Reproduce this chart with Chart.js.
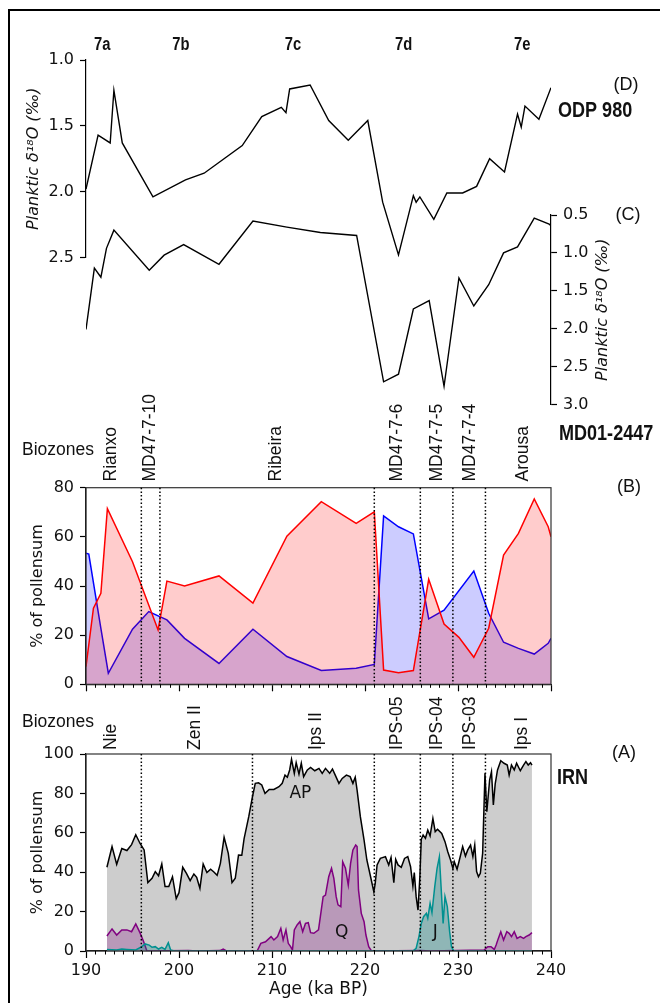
<!DOCTYPE html>
<html>
<head>
<meta charset="utf-8">
<script src="https://cdn.jsdelivr.net/npm/chart.js@4"></script>
<style>
  html, body { margin: 0; padding: 0; background: #fff; }
  #wrap { position: relative; width: 660px; height: 1003px; overflow: hidden; }
  #wrap canvas { position: absolute; left: 0; top: 0; }
</style>
</head>
<body>
<div id="wrap">
  <canvas id="odp" width="660" height="1003"></canvas>
  <canvas id="md" width="660" height="1003"></canvas>
  <canvas id="pollenB" width="660" height="1003"></canvas>
  <canvas id="pollenA" width="660" height="1003"></canvas>
</div>
<script>
// (D) ODP 980 planktic d18O
const odpAge = [190, 191.3, 192.6, 193.0, 193.9, 197.2, 200.7, 202.7, 206.8, 208.9, 211.0, 211.5, 211.9, 214.1, 216.1, 218.2, 220.3, 221.9, 223.6, 225.2, 225.5, 225.9, 227.4, 228.8, 230.5, 232.0, 233.4, 235.0, 236.4, 236.8, 237.2, 238.7, 240.0];
const odpD18O = [1.98, 1.57, 1.63, 1.23, 1.63, 2.04, 1.91, 1.86, 1.65, 1.43, 1.36, 1.40, 1.22, 1.19, 1.46, 1.61, 1.46, 2.08, 2.48, 2.03, 2.08, 2.04, 2.21, 2.01, 2.01, 1.96, 1.75, 1.85, 1.41, 1.51, 1.35, 1.45, 1.21];

// (C) MD01-2447 planktic d18O
const mdAge = [190, 190.9, 191.6, 192.2, 193.0, 196.8, 198.4, 200.5, 204.3, 207.95, 211.6, 215.2, 219.1, 222.0, 223.6, 225.2, 226.9, 228.5, 230.1, 231.7, 233.3, 234.9, 236.4, 238.2, 239.8, 240];
const mdD18O = [2.01, 1.20, 1.32, 0.94, 0.70, 1.23, 1.03, 0.89, 1.15, 0.58, 0.66, 0.73, 0.77, 2.70, 2.60, 1.74, 1.63, 2.76, 1.33, 1.70, 1.42, 1.00, 0.92, 0.54, 0.62, 0.64];

// (B) MD01-2447 pollen
const redAge = [190, 190.8, 191.6, 192.3, 195.0, 197.75, 198.7, 200.6, 204.3, 207.95, 211.6, 215.3, 219.05, 221.0, 222.0, 223.6, 225.2, 226.85, 228.5, 230.1, 231.7, 233.3, 234.9, 236.5, 238.2, 239.7, 240];
const redVal = [7.2, 31, 37, 71.5, 49.9, 22.1, 42.0, 40.0, 44.1, 33.0, 60.3, 74.3, 65.5, 70.2, 5.8, 4.7, 5.6, 42.7, 24.5, 19.1, 11.0, 22.8, 52.6, 61.4, 75.4, 64.1, 60];
const blueAge = [190, 190.3, 191.6, 192.4, 195.0, 196.75, 198.7, 200.6, 204.3, 207.95, 211.6, 215.3, 219.05, 221.0, 222.0, 223.6, 225.2, 226.85, 228.5, 231.7, 233.3, 234.9, 236.5, 238.2, 239.7, 240];
const blueVal = [53.3, 53.0, 22.8, 4.5, 22.4, 29.6, 26.2, 18.7, 8.5, 22.4, 11.3, 5.6, 6.5, 8.1, 68.5, 64.1, 61.2, 26.6, 30.2, 46.1, 28.9, 17.1, 14.6, 12.3, 16.7, 18.7];

// (A) IRN pollen: AP, Q, J
const apAge = [192.25, 192.8, 193.3, 193.85, 194.4, 194.9, 195.35, 195.8, 196.25, 196.65, 197.1, 197.45, 197.8, 198.15, 198.5, 198.9, 199.3, 199.7, 200.0, 200.4,
  200.8, 201.2, 201.6, 201.9, 202.25, 202.6, 203.0, 203.4, 203.75, 204.1, 204.45, 204.85, 205.3, 205.7, 206.05, 206.4, 206.75, 207.0, 207.5, 207.9,
  208.2, 208.55, 208.9, 209.25, 209.7, 210.2, 210.75, 211.1, 211.4, 211.65, 211.9, 212.1, 212.4, 212.6, 212.9, 213.15, 213.4, 213.8, 214.15, 214.6,
  215.05, 215.4, 215.75, 216.2, 216.5, 216.8, 217.2, 217.55, 218.0, 218.4, 218.7, 218.95, 219.15, 219.5, 219.9, 220.2, 220.6, 220.95, 221.1, 221.3,
  221.65, 222.2, 222.55, 222.8, 223.1, 223.3, 223.55, 223.9, 224.25, 224.6, 224.9, 225.15, 225.3, 225.5, 225.7, 225.9, 226.05, 226.25, 226.5, 226.75,
  227.0, 227.3, 227.55, 227.8, 228.25, 228.6, 228.9, 229.2, 229.45, 229.6, 229.9, 230.15, 230.5, 230.8, 231.05, 231.35, 231.6, 231.8, 232.0, 232.2,
  232.4, 232.65, 232.9, 233.1, 233.4, 233.6, 233.8, 234.0, 234.25, 234.6, 234.95, 235.3, 235.5, 235.75, 236.05, 236.3, 236.7, 237.05, 237.3, 237.55,
  237.8, 237.95];
const apVal = [42.5, 53, 44, 52, 51, 54, 59, 54.7, 51.3, 34.7, 36.9, 40.3, 38.2, 44.2, 32.7, 32.7, 37.7, 26.6, 29.6, 42.5,
  39.4, 35.7, 39.1, 37.4, 31.8, 44.2, 39.8, 41.5, 40.1, 38.4, 44.5, 57.7, 49.6, 34.7, 36.9, 48.7, 48.6, 57, 68.2, 78.3,
  85.1, 85.4, 84.3, 80, 82, 82, 83.4, 85.1, 89.3, 88.2, 91.9, 97.3, 90.2, 95.6, 89.8, 95.3, 88.5, 91.9, 93.2, 91.5,
  92.7, 90.2, 92.7, 90.2, 92.4, 89.3, 85.1, 87.6, 89.3, 88.5, 85.1, 88.2, 81.7, 68.2, 56.3, 46.2, 37.7, 30.1, 34.3, 43.7,
  47, 47.9, 43.7, 47.5, 34.7, 46.5, 43.7, 42.5, 47, 47.9, 42.8, 33, 39.8, 27.6, 20.8, 37.7, 56.7, 58.9, 57.2, 61.4,
  58.4, 67.3, 60.6, 61.8, 59.7, 55.5, 50.4, 46.2, 42, 45.3, 41.5, 46.2, 53, 48.2, 51.3, 53.8, 47.9, 53.8, 40.3, 37.7,
  39.4, 49.6, 90.2, 70.7, 86.8, 91, 74.1, 84.8, 91.9, 96.6, 95.3, 94.4, 89.3, 94.4, 91.9, 95.3, 91.5, 94.4, 96.1, 94.4,
  95.6, 94.4];
const qAge = [192.25, 192.8, 193.3, 193.85, 194.4, 194.9, 195.35, 195.8, 196.2, 196.55, 201.0, 202.0, 204.4, 204.75, 205.1, 208.4, 208.8, 209.3, 209.9, 210.2,
  210.6, 210.95, 211.2, 211.5, 211.75, 212.0, 212.2, 212.4, 212.7, 213.0, 213.3, 213.6, 213.9, 214.15, 214.5, 215.0, 215.2, 215.5, 215.75, 216.1,
  216.4, 216.65, 216.9, 217.1, 217.4, 217.6, 217.9, 218.2, 218.45, 218.7, 219.0, 219.15, 219.3, 219.6, 219.9, 220.1, 220.4, 220.7, 226.0, 227.0,
  232.8, 233.2, 233.55, 233.9, 234.1, 234.3, 234.6, 234.9, 235.25, 235.5, 235.75, 236.05, 236.35, 236.7, 237.05, 237.3, 237.65, 237.95];
const qVal = [7.6, 11.2, 8.1, 10.7, 10.7, 9.8, 13.7, 9.3, 4.7, 0, 0.3, 0, 0.2, 1.0, 0, 0, 3.9, 4.7, 7.3, 5.6,
  7.3, 11.5, 5.6, 10.7, 3.9, 2.2, 0.5, 10.7, 13.2, 14.9, 9.8, 14, 14.4, 9.3, 9, 10.7, 17.4, 27.6, 28.4, 37.7,
  42, 36.9, 27.6, 23.4, 22.5, 45.3, 42, 33.5, 44.5, 51.3, 53.8, 53, 31, 19.1, 14.9, 8.1, 2.2, 0, 0.3, 0,
  0.5, 2.2, 2.2, 0.8, 3, 5.9, 9.8, 5.6, 9.8, 9, 7.3, 9.8, 6.4, 7.3, 6.4, 7.3, 8.1, 9.3];
const jAge = [192.25, 193.3, 193.85, 194.4, 195.35, 196.0, 196.35, 196.8, 197.1, 197.45, 197.8, 198.15, 198.5, 198.85, 199.1, 199.5, 225.15, 225.5, 225.8, 226.05,
  226.3, 226.6, 226.75, 227.0, 227.2, 227.5, 227.75, 228.0, 228.2, 228.4, 228.6, 228.85, 229.1, 229.3, 229.55, 237.95];
const jVal = [0.8, 0.5, 1.0, 0.8, 0.5, 2.2, 3.6, 3.0, 1.9, 2.2, 1.0, 1.9, 0.8, 4.2, 0.5, 0, 0, 1.4, 7.3, 14,
  17.4, 19.1, 16.6, 24.2, 19.5, 32.7, 42, 47.9, 31, 14, 27.6, 22.5, 9.8, 2.2, 0, 0];

// stages and biozones
const stageNames = ["7a", "7b", "7c", "7d", "7e"];
const stageAges = [191.75, 200.2, 212.25, 224.15, 236.9];
const zoneLinesB = [195.95, 197.95, 221.0, 225.95, 229.45, 232.95];
const zoneNamesB = ["Rianxo", "MD47-7-10", "Ribeira", "MD47-7-6", "MD47-7-5", "MD47-7-4", "Arousa"];
const zoneAgesB = [192.7, 196.9, 210.5, 223.5, 227.8, 231.3, 237.0];
const zoneLinesA = [195.95, 207.9, 221.0, 225.95, 229.45, 232.95];
const zoneNamesA = ["Nie", "Zen II", "Ips II", "IPS-05", "IPS-04", "IPS-03", "Ips I"];
const zoneAgesA = [192.75, 201.7, 214.8, 223.5, 227.8, 231.3, 236.85];
const seriesNamesA = ["AP", "Q", "J"];
const seriesLabelAt = [[213.05, 79.7], [217.5, 9.6], [227.55, 9.1]];

function pts(xs, ys) {
  return xs.map((x, i) => ({ x: x, y: ys[i] }));
}

const tickFont = { family: "DejaVu Sans", size: 16 };
const sans = '"Liberation Sans", Arial, sans-serif';
const ink = "#111";

// bold condensed text: Liberation Sans Bold squeezed horizontally
function narrowText(ctx, text, x, y, size, align) {
  ctx.save();
  ctx.font = "bold " + size + "px " + sans;
  ctx.textAlign = align;
  ctx.textBaseline = "middle";
  ctx.translate(x, y);
  ctx.scale(0.82, 1);
  ctx.fillText(text, 0, 0);
  ctx.restore();
}

const frame = {
  id: "frame",
  afterDatasetsDraw(chart) {
    const a = chart.chartArea, ctx = chart.ctx;
    ctx.save();
    ctx.strokeStyle = "#333";
    ctx.lineWidth = 1.2;
    ctx.strokeRect(a.left, a.top, a.right - a.left, a.bottom - a.top);
    ctx.restore();
  },
};

const minorTicks = {
  id: "minorTicks",
  afterDraw(chart) {
    const x = chart.scales.x, ctx = chart.ctx, y0 = chart.chartArea.bottom;
    ctx.save();
    ctx.strokeStyle = "#000";
    ctx.lineWidth = 1;
    ctx.beginPath();
    for (let v = 190; v <= 240; v++) {
      if (v % 10 === 0) continue;
      const px = Math.round(x.getPixelForValue(v)) + 0.5;
      ctx.moveTo(px, y0);
      ctx.lineTo(px, y0 + 3.5);
    }
    ctx.stroke();
    ctx.restore();
  },
};

const zones = {
  id: "zones",
  afterDatasetsDraw(chart, args, opts) {
    const x = chart.scales.x, a = chart.chartArea, ctx = chart.ctx;
    ctx.save();
    ctx.strokeStyle = "#000";
    ctx.lineWidth = 1.5;
    ctx.setLineDash([1.5, 2.2]);
    opts.lines.forEach((v) => {
      const px = x.getPixelForValue(v);
      ctx.beginPath();
      ctx.moveTo(px, a.top);
      ctx.lineTo(px, a.bottom);
      ctx.stroke();
    });
    ctx.setLineDash([]);
    ctx.fillStyle = ink;
    ctx.font = "17.5px " + sans;
    ctx.textBaseline = "middle";
    opts.names.forEach((name, i) => {
      ctx.save();
      ctx.translate(x.getPixelForValue(opts.ages[i]), opts.bottom);
      ctx.rotate(-Math.PI / 2);
      ctx.textAlign = "left";
      ctx.fillText(name, 0, 0);
      ctx.restore();
    });
    ctx.textAlign = "left";
    ctx.fillText("Biozones", 22, opts.header);
    ctx.restore();
  },
};

const stages = {
  id: "stages",
  afterDraw(chart) {
    const x = chart.scales.x, ctx = chart.ctx;
    ctx.fillStyle = ink;
    stageNames.forEach((s, i) => narrowText(ctx, s, x.getPixelForValue(stageAges[i]), 45, 18, "center"));
  },
};

const rightTitle = {
  id: "rightTitle",
  afterDraw(chart) {
    const y = chart.scales.y, ctx = chart.ctx;
    ctx.save();
    ctx.fillStyle = ink;
    ctx.font = "italic 16px 'DejaVu Sans'";
    ctx.textAlign = "center";
    ctx.textBaseline = "middle";
    ctx.translate(603, (y.top + y.bottom) / 2);
    ctx.rotate(-Math.PI / 2);
    ctx.fillText("Planktic δ¹⁸O (‰)", 0, 0);
    ctx.restore();
  },
};

const seriesLabels = {
  id: "seriesLabels",
  afterDatasetsDraw(chart) {
    const x = chart.scales.x, y = chart.scales.y, ctx = chart.ctx;
    ctx.save();
    ctx.fillStyle = ink;
    ctx.font = "17px 'DejaVu Sans'";
    ctx.textAlign = "center";
    ctx.textBaseline = "middle";
    seriesNamesA.forEach((n, i) => {
      ctx.fillText(n, x.getPixelForValue(seriesLabelAt[i][0]), y.getPixelForValue(seriesLabelAt[i][1]));
    });
    ctx.restore();
  },
};

const panelText = {
  id: "panelText",
  afterDraw(chart) {
    const ctx = chart.ctx;
    ctx.save();
    ctx.strokeStyle = "#000";
    ctx.lineWidth = 2;
    ctx.beginPath();
    ctx.moveTo(9, 1003);
    ctx.lineTo(9, 10);
    ctx.lineTo(660, 10);
    ctx.stroke();
    ctx.fillStyle = ink;
    ctx.textBaseline = "middle";
    ctx.font = "18px " + sans;
    ctx.textAlign = "center";
    ctx.fillText("(D)", 626, 85.5);
    ctx.fillText("(C)", 628, 215);
    ctx.fillText("(B)", 629, 487);
    ctx.fillText("(A)", 624, 753);
    narrowText(ctx, "ODP 980", 558, 111, 22, "left");
    narrowText(ctx, "MD01-2447", 559, 434, 22, "left");
    narrowText(ctx, "IRN", 557, 778, 22, "left");
    ctx.restore();
  },
};

function leftAxis(min, max, step, title, titleItalic) {
  return {
    type: "linear",
    position: "left",
    min: min,
    max: max,
    afterFit: (s) => { s.width = 66; },
    ticks: { stepSize: step, font: tickFont, color: ink, padding: 6 },
    grid: { drawOnChartArea: false, tickLength: 6, tickColor: "#000", tickWidth: 1.2 },
    border: { color: "#000", width: 1.2 },
    title: {
      display: true,
      text: title,
      color: ink,
      font: { family: "DejaVu Sans", size: 16, style: titleItalic ? "italic" : "normal" },
      padding: { top: titleItalic ? 4 : 8, bottom: 0 },
    },
  };
}

const common = {
  responsive: false,
  animation: false,
  events: [],
  plugins: { legend: { display: false }, tooltip: { enabled: false } },
};

// (D) ODP 980
new Chart(document.getElementById("odp"), {
  type: "line",
  data: {
    datasets: [{ data: pts(odpAge, odpD18O), borderColor: "#000", borderWidth: 1.4, pointRadius: 0, fill: false }],
  },
  options: Object.assign({}, common, {
    layout: { autoPadding: false, padding: { left: 20, right: 109, top: 60, bottom: 1003 - 257.5 } },
    scales: {
      x: { type: "linear", min: 190, max: 240, display: false },
      y: Object.assign(leftAxis(1.0, 2.5, 0.5, "Planktic δ¹⁸O (‰)", true), {
        reverse: true,
        ticks: { stepSize: 0.5, font: tickFont, color: ink, padding: 6, callback: (v) => v.toFixed(1) },
      }),
    },
  }),
  plugins: [stages],
});

// (C) MD01-2447
new Chart(document.getElementById("md"), {
  type: "line",
  data: {
    datasets: [{ data: pts(mdAge, mdD18O), borderColor: "#000", borderWidth: 1.4, pointRadius: 0, fill: false }],
  },
  options: Object.assign({}, common, {
    layout: { autoPadding: false, padding: { left: 86, right: 49, top: 215, bottom: 1003 - 404.5 } },
    scales: {
      x: { type: "linear", min: 190, max: 240, display: false },
      y: {
        type: "linear",
        position: "right",
        reverse: true,
        min: 0.5,
        max: 3.0,
        afterFit: (s) => { s.width = 60; },
        ticks: { stepSize: 0.5, font: tickFont, color: ink, padding: 6, callback: (v) => v.toFixed(1) },
        grid: { drawOnChartArea: false, tickLength: 6, tickColor: "#000", tickWidth: 1.2 },
        border: { color: "#000", width: 1.2 },
      },
    },
  }),
  plugins: [rightTitle],
});

// (B) MD01-2447 pollen
new Chart(document.getElementById("pollenB"), {
  type: "line",
  data: {
    datasets: [
      { data: pts(redAge, redVal), borderColor: "#ff0000", backgroundColor: "rgba(255,0,0,0.2)", borderWidth: 1.5, pointRadius: 0, fill: "origin" },
      { data: pts(blueAge, blueVal), borderColor: "#0000ff", backgroundColor: "rgba(0,0,255,0.2)", borderWidth: 1.5, pointRadius: 0, fill: "origin" },
    ],
  },
  options: Object.assign({}, common, {
    layout: { autoPadding: false, padding: { left: 20, right: 109, top: 487.7, bottom: 1003 - 684.3 - 10 } },
    scales: {
      x: {
        type: "linear",
        min: 190,
        max: 240,
        afterFit: (s) => { s.height = 10; },
        ticks: { stepSize: 10, display: false },
        grid: { drawOnChartArea: false, tickLength: 7, tickColor: "#000", tickWidth: 1.2 },
        border: { color: "#000", width: 1.2 },
      },
      y: leftAxis(0, 80, 20, "% of pollensum", false),
    },
    plugins: Object.assign({}, common.plugins, {
      zones: { lines: zoneLinesB, names: zoneNamesB, ages: zoneAgesB, bottom: 481.5, header: 450 },
    }),
  }),
  plugins: [frame, minorTicks, zones],
});

// (A) IRN pollen
new Chart(document.getElementById("pollenA"), {
  type: "line",
  data: {
    datasets: [
      { data: pts(apAge, apVal), borderColor: "#000", backgroundColor: "#cdcdcd", borderWidth: 1.5, pointRadius: 0, fill: "origin", order: 3 },
      { data: pts(qAge, qVal), borderColor: "#800080", backgroundColor: "rgba(128,0,128,0.25)", borderWidth: 1.5, pointRadius: 0, fill: "origin", order: 2 },
      { data: pts(jAge, jVal), borderColor: "#009090", backgroundColor: "rgba(0,128,128,0.3)", borderWidth: 1.5, pointRadius: 0, fill: "origin", order: 1 },
    ],
  },
  options: Object.assign({}, common, {
    layout: { autoPadding: false, padding: { left: 20, right: 109, top: 754, bottom: 0 } },
    scales: {
      x: {
        type: "linear",
        min: 190,
        max: 240,
        afterFit: (s) => { s.height = 52; },
        ticks: { stepSize: 10, font: tickFont, color: ink, padding: 3 },
        grid: { drawOnChartArea: false, tickLength: 7, tickColor: "#000", tickWidth: 1.2 },
        border: { color: "#000", width: 1.2 },
        title: { display: true, text: "Age (ka BP)", color: ink, font: { family: "DejaVu Sans", size: 17 }, padding: { top: 0, bottom: 3 } },
      },
      y: leftAxis(0, 100, 20, "% of pollensum", false),
    },
    plugins: Object.assign({}, common.plugins, {
      zones: { lines: zoneLinesA, names: zoneNamesA, ages: zoneAgesA, bottom: 750, header: 722 },
    }),
  }),
  plugins: [frame, minorTicks, zones, seriesLabels, panelText],
});
</script>
</body>
</html>
